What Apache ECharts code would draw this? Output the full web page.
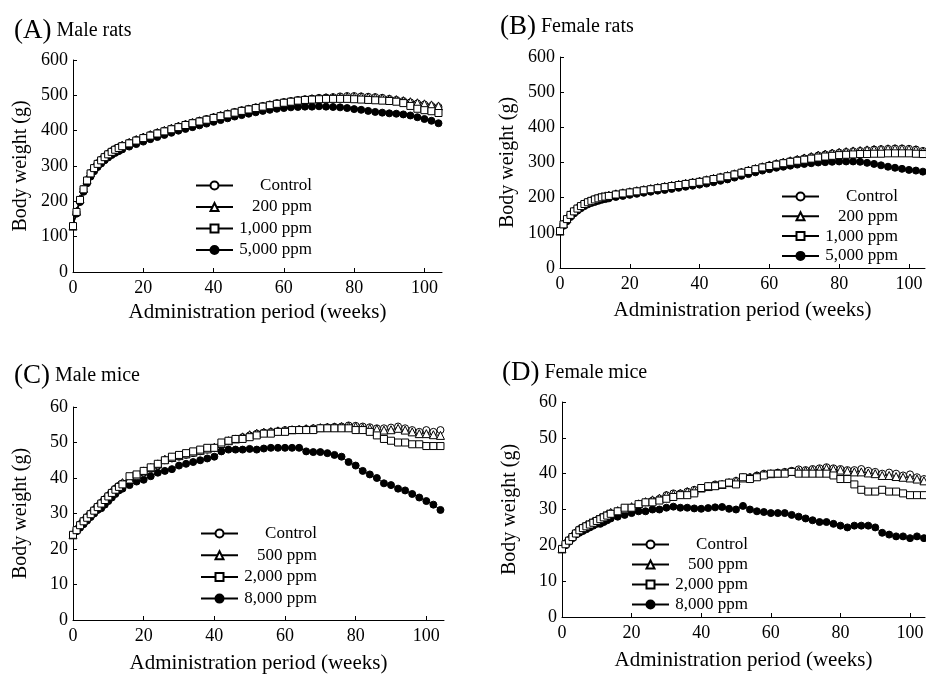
<!DOCTYPE html>
<html>
<head>
<meta charset="utf-8">
<script src="https://cdn.jsdelivr.net/npm/echarts@6/dist/echarts.min.js"></script>
<style>
  html, body { margin: 0; background: #fff; }
  #main { width: 926px; height: 676px; }
</style>
</head>
<body>
<div id="main"></div>
<script>
// weekly to week 14, then every 2 weeks
const weeks = [0,1,2,3,4,5,6,7,8,9,10,11,12,13,14,
  16,18,20,22,24,26,28,30,32,34,36,38,40,42,44,
  46,48,50,52,54,56,58,60,62,64,66,68,70,72,74,
  76,78,80,82,84,86,88,90,92,94,96,98,100,102,104]
const xTicks = [0, 20, 40, 60, 80, 100]

// (A) male rats, g
const ratMaleControl = [130,170,205,235,260,280,295,308,318,327,335,342,348,353,358,
  366,374,381,388,394,400,406,412,418,423,428,433,438,443,448,
  453,458,462,466,470,474,478,481,484,487,489,491,493,494,495,
  497,498,498,497,496,495,493,490,487,484,480,477,474,470,467]
const ratMale200 = [130,172,207,237,262,282,297,309,319,328,336,343,349,354,359,
  367,375,382,389,395,401,407,413,418,423,428,433,438,443,448,
  452,457,461,465,469,473,477,480,483,486,488,490,492,493,494,
  495,496,496,496,495,494,492,490,488,485,482,479,476,473,470]
const ratMale1000 = [130,170,204,234,259,279,294,306,316,325,333,340,346,351,356,
  364,372,379,386,392,398,404,410,416,421,426,431,436,441,446,
  451,456,460,464,468,472,476,479,482,485,487,488,489,490,490,
  490,490,489,488,487,486,485,484,482,478,470,462,458,455,450]
const ratMale5000 = [130,165,198,227,251,270,285,297,307,316,324,331,337,342,347,
  355,362,369,376,382,388,394,400,405,410,415,420,425,430,435,
  440,444,448,452,456,459,462,464,466,467,468,468,469,468,467,
  466,464,461,459,456,453,451,449,448,446,443,438,433,428,421]

// (B) female rats, g
const ratFemControl = [105,125,140,152,162,170,177,183,188,192,196,199,202,204,206,
  210,213,216,219,222,225,228,231,234,237,240,243,246,250,254,
  258,262,267,272,277,282,287,292,296,300,304,308,312,316,320,
  323,326,328,330,332,333,335,337,338,339,340,340,339,337,333]
const ratFem200 = [105,126,141,153,163,171,178,184,189,193,197,200,203,205,207,
  211,214,217,220,223,226,229,232,235,238,241,244,247,251,255,
  259,263,268,273,278,283,288,293,297,301,305,309,313,317,321,
  324,327,329,331,333,334,336,337,338,339,339,339,338,336,332]
const ratFem1000 = [105,124,139,151,161,169,176,182,187,191,195,198,201,203,205,
  209,212,215,218,221,224,227,230,233,236,239,242,245,249,253,
  257,261,266,271,276,281,286,290,294,298,302,305,308,311,314,
  317,319,321,322,323,324,324,325,325,326,326,326,326,325,324]
const ratFem5000 = [105,120,133,145,155,163,170,176,181,185,188,191,194,196,198,
  202,205,208,211,214,217,220,222,225,228,231,234,237,240,244,
  248,252,257,262,267,272,277,281,285,288,291,294,296,298,300,
  301,302,303,303,303,302,299,296,292,288,285,282,279,277,274]

// (C) male mice, g
const mouseMaleControl = [24,25.5,27,28,29,30,31,32,33,34,35,36,37,37.8,38.5,
  39.5,40.5,41.5,42.5,43.5,45,45.5,46,46.5,47,47.5,48,48.5,49.5,50.5,
  51,51.5,52,52.5,52.8,53,53.2,53.5,53.6,53.7,53.8,54,54.1,54.3,54.4,
  54.5,54.8,54.7,54.5,54.3,54,54,54.2,54.5,54,53.5,53,53.5,53,53.5]
const mouseMale500 = [24,25.8,27.2,28.3,29.3,30.3,31.3,32.3,33.3,34.3,35.3,36.3,37.2,38,38.7,
  39.7,40.8,42,43,44,45.3,45.8,46.3,46.8,47.3,47.8,48.2,48.7,49.7,50.5,
  51,51.6,52.2,52.6,52.9,53.1,53.3,53.5,53.6,53.7,53.9,54,54.2,54.3,54.4,
  54.5,54.6,54.5,54.2,54,53.8,53.5,53.6,54,53.5,53,52.5,52.5,52.2,52]
const mouseMale2000 = [24,25.3,26.7,27.8,28.8,29.8,30.8,31.8,32.8,33.8,34.8,35.8,36.7,37.5,38.2,
  40.5,41,42,43,44,45,46,46.5,47,47.5,48,48.5,48.5,50,50.5,
  51,51,51.5,52,52.5,52.5,53,53,53.5,53.5,53.5,53.5,54,54,54,
  54,54,53.5,53.5,53,52,51,50.5,50,50,49.5,49.5,49,49,49]
const mouseMale8000 = [24,25,26,27,28,29,30,31,31.5,32.5,33.5,34.5,35.5,36.5,37,
  38,39,39.5,40.5,41.5,42,42.5,43.5,44,44.5,45,45.5,46,47.5,48,
  48,48,48.2,48,48.3,48.5,48.5,48.5,48.5,48.5,47.5,47.3,47.3,47,46.5,
  46,44.5,43.5,42,41,40,38.5,38,37,36.5,35.5,34.5,33.5,32.5,31]

// (D) female mice, g
const mouseFemControl = [19,20.5,21.5,22.5,23.5,24.5,25,25.5,26,26.5,27,27.5,28,28.5,29,
  29.5,30,30.5,31.5,32,32.5,33,34,34.5,34.5,35,35.5,36,36.5,37,
  37,37.5,38,39,39,39.5,40,40,40.3,40.5,40.8,41.2,41,41.3,41.5,
  41.8,41.5,41.3,41,41,41.3,40.8,40.5,40,40.3,40,39.5,39.8,39,38.5]
const mouseFem500 = [19,20.8,21.8,22.8,23.8,24.6,25.2,25.8,26.3,26.8,27.3,27.8,28.3,28.8,29.2,
  29.7,30.2,30.8,31.6,32.2,32.7,33.2,34,34.3,34.5,35,35.4,36,36.4,36.8,
  37,37.5,38,38.8,39,39.4,39.8,40,40.2,40.4,40.6,40.8,40.8,41,41.2,
  41.5,41.2,41,40.7,40.5,40.5,40.2,40,39.5,39.5,39.2,39,38.8,38.5,38]
const mouseFem2000 = [19,20.3,21.3,22.3,23.3,24.2,24.8,25.3,25.8,26.3,26.8,27.3,27.8,28.3,28.8,
  29.5,30.5,30.5,31.5,32,32,32.5,33,33.5,34,34,34.5,36,36.5,36.5,
  37,37.5,37,39,38.5,39,39.5,40,40,40,40.5,40,40,40,40,
  40,39.5,38.5,38.5,37,35.5,35,35,35.5,35,35,34.5,34,34,34]
const mouseFem8000 = [19,20,21,22,23,23.5,24,24.5,25,25.5,26,26,26.5,27,27.5,
  28,28.5,29,29.5,29.5,30,30,30.5,30.8,30.5,30.5,30.3,30.2,30.4,30.6,
  30.7,30.2,30,31,30,29.5,29.3,29,29,29,28.5,28,27.5,27,26.5,
  26.5,26,25.5,25,25.5,25.5,25.5,25,23.5,23,22.5,22.5,22,22.5,22]

const ratNames = ['Control', '200 ppm', '1,000 ppm', '5,000 ppm']
const mouseNames = ['Control', '500 ppm', '2,000 ppm', '8,000 ppm']

const FONT = 'Liberation Serif'

const panels = [
  { tag: '(A)', label: 'Male rats', names: ratNames,
    values: [ratMaleControl, ratMale200, ratMale1000, ratMale5000],
    ymax: 600, yint: 100, xmax: 105,
    grid: { left: 73, top: 60, width: 369, height: 212 },
    titlePos: { left: 9, top: 12 }, nameGap: 30,
    legend: { left: 190, top: 172, gap: 4.5 } },
  { tag: '(B)', label: 'Female rats', names: ratNames,
    values: [ratFemControl, ratFem200, ratFem1000, ratFem5000],
    ymax: 600, yint: 100, xmax: 104.6,
    grid: { left: 560, top: 57, width: 365, height: 211 },
    titlePos: { left: 495, top: 8 }, nameGap: 32,
    legend: { left: 776, top: 183, gap: 2.8 } },
  { tag: '(C)', label: 'Male mice', names: mouseNames,
    values: [mouseMaleControl, mouseMale500, mouseMale2000, mouseMale8000],
    ymax: 60, yint: 10, xmax: 105,
    grid: { left: 73, top: 407, width: 371, height: 213 },
    titlePos: { left: 9, top: 357 }, nameGap: 33,
    legend: { left: 195, top: 520, gap: 4.7 } },
  { tag: '(D)', label: 'Female mice', names: mouseNames,
    values: [mouseFemControl, mouseFem500, mouseFem2000, mouseFem8000],
    ymax: 60, yint: 10, xmax: 104.3,
    grid: { left: 562, top: 402, width: 363, height: 215 },
    titlePos: { left: 497, top: 354 }, nameGap: 33,
    legend: { left: 626, top: 531, gap: 3 } }
]

// control, low, mid, high dose markers
const marks = [
  { symbol: 'circle', size: 7, fill: '#fff' },
  { symbol: 'triangle', size: 8, fill: '#fff' },
  { symbol: 'rect', size: 7, fill: '#fff' },
  { symbol: 'circle', size: 7, fill: '#000' }
]

const axisCommon = {
  axisLine: { lineStyle: { color: '#000', width: 1 } },
  axisTick: { inside: true, length: 4, lineStyle: { color: '#000' } },
  splitLine: { show: false },
  axisLabel: { color: '#000', fontFamily: FONT, fontSize: 18 },
  nameTextStyle: { color: '#000', fontFamily: FONT, fontSize: 21 }
}

const option = {
  backgroundColor: '#fff',
  animation: false,
  title: [], grid: [], xAxis: [], yAxis: [], legend: [], series: []
}

panels.forEach((p, k) => {
  option.title.push({
    text: '{a|' + p.tag + '} {b|' + p.label + '}',
    left: p.titlePos.left, top: p.titlePos.top,
    textStyle: { fontWeight: 'normal', rich: {
      a: { fontFamily: FONT, fontSize: 27, fontWeight: 'normal', color: '#000' },
      b: { fontFamily: FONT, fontSize: 20, fontWeight: 'normal', color: '#000' }
    } }
  })
  option.grid.push(Object.assign({ outerBoundsMode: 'none', containLabel: false }, p.grid))
  option.xAxis.push(Object.assign({}, axisCommon, {
    type: 'value', gridIndex: k, min: 0, max: p.xmax,
    name: 'Administration period (weeks)', nameLocation: 'middle', nameGap: p.nameGap,
    axisTick: Object.assign({}, axisCommon.axisTick, { customValues: xTicks }),
    axisLabel: Object.assign({}, axisCommon.axisLabel, { customValues: xTicks, margin: 7 })
  }))
  option.yAxis.push(Object.assign({}, axisCommon, {
    type: 'value', gridIndex: k, min: 0, max: p.ymax, interval: p.yint,
    name: 'Body weight (g)', nameLocation: 'middle', nameGap: 42,
    nameTextStyle: Object.assign({}, axisCommon.nameTextStyle, { fontSize: 20 }),
    axisLabel: Object.assign({}, axisCommon.axisLabel, { margin: 5 })
  }))
  option.legend.push({
    orient: 'vertical', left: p.legend.left, top: p.legend.top,
    data: p.names, itemWidth: 37, itemHeight: 10, itemGap: p.legend.gap,
    selectedMode: false,
    formatter: n => '{t|' + n + '}',
    textStyle: { rich: { t: { fontFamily: FONT, fontSize: 17, color: '#000',
      width: 74, align: 'right' } } }
  })
  // high dose drawn first so open markers sit on top
  ;[3, 0, 1, 2].forEach(j => {
    option.series.push({
      type: 'line', name: p.names[j], xAxisIndex: k, yAxisIndex: k,
      data: weeks.map((w, i) => [w, p.values[j][i]]),
      symbol: marks[j].symbol, symbolSize: marks[j].size, showAllSymbol: true,
      lineStyle: { color: '#000', width: 1 },
      itemStyle: { color: marks[j].fill, borderColor: '#000', borderWidth: 1 },
      emphasis: { disabled: true }
    })
  })
})

const chart = echarts.init(document.getElementById('main'))
chart.setOption(option)
</script>
</body>
</html>
